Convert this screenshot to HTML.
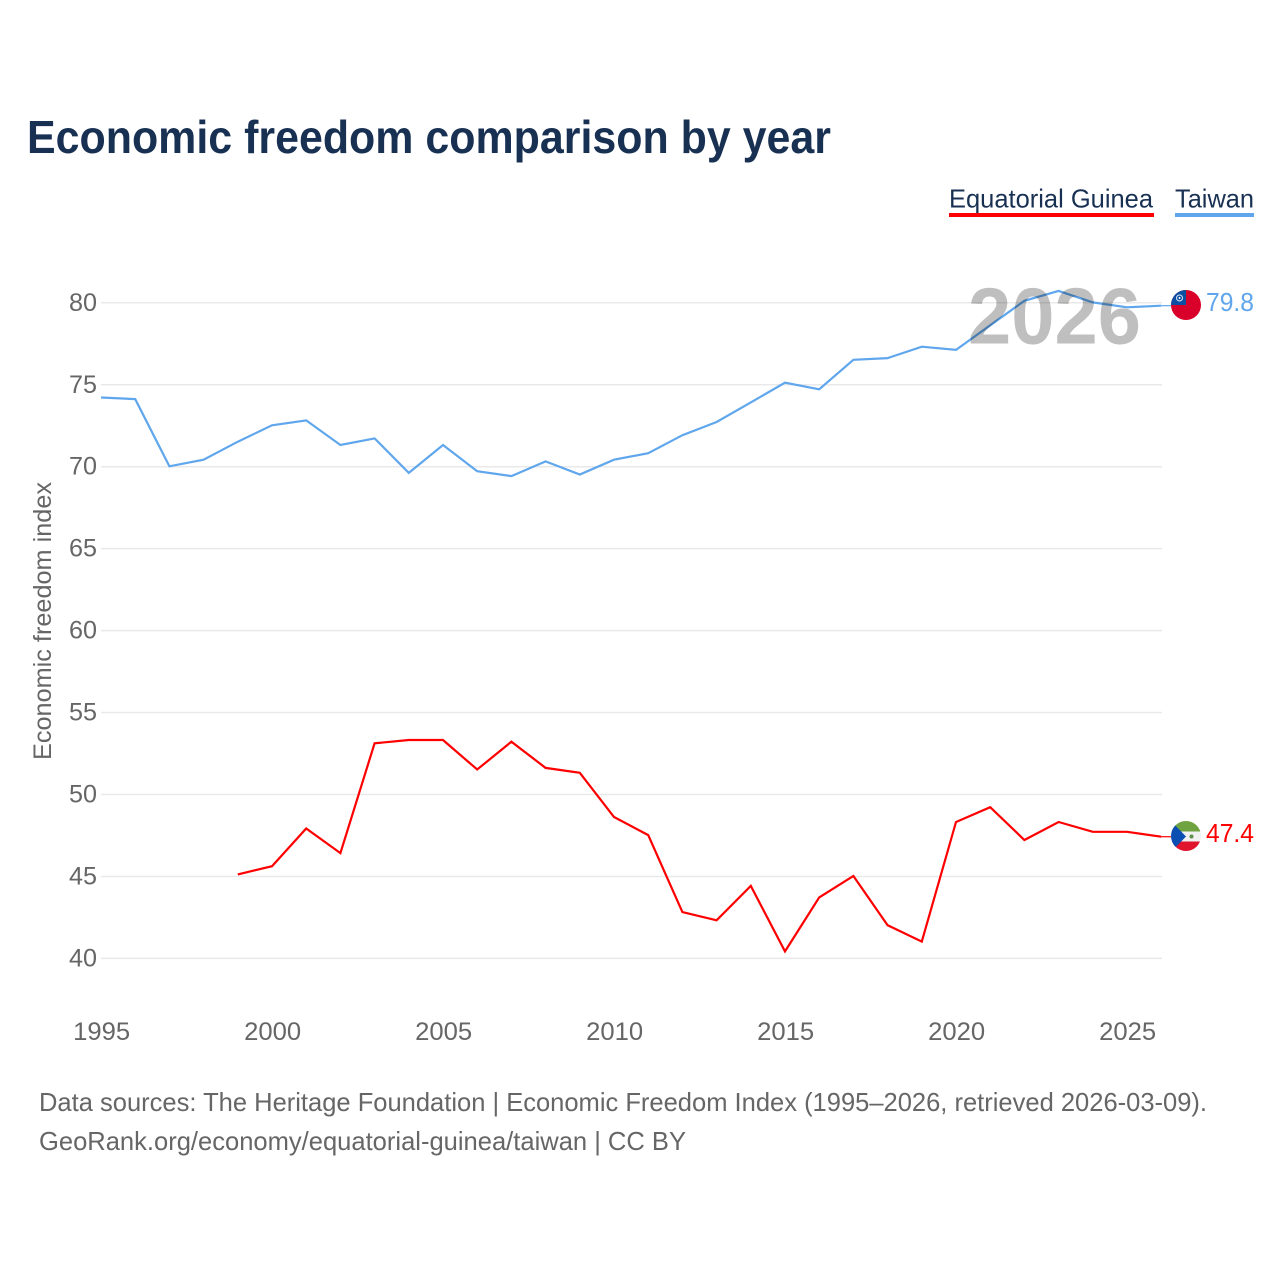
<!DOCTYPE html>
<html lang="en">
<head>
<meta charset="utf-8">
<title>Economic freedom comparison by year</title>
<style>
html,body{margin:0;padding:0;background:#fff;}
svg{display:block;font-family:"Liberation Sans",sans-serif;}
</style>
</head>
<body>
<svg id="chart" xmlns="http://www.w3.org/2000/svg" width="1280" height="1280" viewBox="0 0 1280 1280">
  <defs>
    <clipPath id="flag-clip-tw"><circle cx="1186" cy="305" r="15"/></clipPath>
    <clipPath id="flag-clip-gq"><circle cx="1186" cy="836" r="15"/></clipPath>
  </defs>
  <rect x="0" y="0" width="1280" height="1280" fill="#ffffff"/>
  <text x="27" y="153" font-size="46" font-weight="700" fill="#183153" textLength="804" lengthAdjust="spacingAndGlyphs">Economic freedom comparison by year</text>

  <g>
    <text x="949" y="207.5" font-size="26" fill="#183153" textLength="204" lengthAdjust="spacingAndGlyphs">Equatorial Guinea</text>
    <rect x="949" y="213" width="205" height="4" fill="#ff0000"/>
  </g>
  <g>
    <text x="1175" y="207.5" font-size="26" fill="#183153" textLength="79" lengthAdjust="spacingAndGlyphs">Taiwan</text>
    <rect x="1175" y="213" width="79" height="4" fill="#5fa6ec"/>
  </g>

  <g id="grid"></g>
  <g id="y-ticks"></g>
  <g id="x-ticks"></g>
  <text transform="translate(51 621) rotate(-90)" text-anchor="middle" font-size="25" fill="#666666" textLength="278" lengthAdjust="spacingAndGlyphs">Economic freedom index</text>

  <g id="series"></g>

  <text x="968" y="343.5" font-size="80" font-weight="700" fill="rgba(0,0,0,0.25)" textLength="173" lengthAdjust="spacingAndGlyphs">2026</text>

  <g clip-path="url(#flag-clip-tw)">
    <rect x="1171" y="290" width="30" height="30" fill="#d90029"/>
    <rect x="1171" y="290" width="15" height="15" fill="#0b4ea2"/>
    <circle cx="1179.5" cy="298" r="3" fill="#0b4ea2" stroke="#dfe8f5" stroke-width="1"/>
    <circle cx="1179.5" cy="298" r="1" fill="#ffffff"/>
  </g>
  <text id="label-tw" x="1206" y="311" font-size="26" fill="#5fa6ec" textLength="48" lengthAdjust="spacingAndGlyphs"></text>

  <g clip-path="url(#flag-clip-gq)">
    <rect x="1171" y="821" width="30" height="10.5" fill="#6fa341"/>
    <rect x="1171" y="831.5" width="30" height="10" fill="#f1f1f1"/>
    <rect x="1171" y="841.5" width="30" height="10" fill="#e0142c"/>
    <polygon points="1171,821 1186,836.5 1171,852" fill="#0b4fb3"/>
    <circle cx="1191.5" cy="836.5" r="2" fill="#5c8f4a"/>
  </g>
  <text id="label-gq" x="1206" y="842" font-size="26" fill="#ff0000" textLength="48" lengthAdjust="spacingAndGlyphs"></text>

  <text x="39" y="1111" font-size="26" fill="#666666" textLength="1168" lengthAdjust="spacingAndGlyphs">Data sources: The Heritage Foundation | Economic Freedom Index (1995–2026, retrieved 2026-03-09).</text>
  <text x="39" y="1150" font-size="26" fill="#666666" textLength="647" lengthAdjust="spacingAndGlyphs">GeoRank.org/economy/equatorial-guinea/taiwan | CC BY</text>
</svg>
<script>
const years = [1995,1996,1997,1998,1999,2000,2001,2002,2003,2004,2005,2006,2007,2008,2009,2010,2011,2012,2013,2014,2015,2016,2017,2018,2019,2020,2021,2022,2023,2024,2025,2026];
const taiwanValues = [74.2,74.1,70.0,70.4,71.5,72.5,72.8,71.3,71.7,69.6,71.3,69.7,69.4,70.3,69.5,70.4,70.8,71.9,72.7,73.9,75.1,74.7,76.5,76.6,77.3,77.1,78.6,80.1,80.7,80.0,79.7,79.8];
const guineaValues = [null,null,null,null,45.1,45.6,47.9,46.4,53.1,53.3,53.3,51.5,53.2,51.6,51.3,48.6,47.5,42.8,42.3,44.4,40.4,43.7,45.0,42.0,41.0,48.3,49.2,47.2,48.3,47.7,47.7,47.4];
const yTicks = [40,45,50,55,60,65,70,75,80];
const xTicks = [1995,2000,2005,2010,2015,2020,2025];

const NS = 'http://www.w3.org/2000/svg';
function xScale(year){ return 101 + (year - 1995) * 34.2; }
function yScale(v){ return 958 - (v - 40) * 16.39; }
function make(tag, parentId){
  const el = document.createElementNS(NS, tag);
  document.getElementById(parentId).appendChild(el);
  return el;
}

yTicks.forEach(function(t){
  const line = make('line', 'grid');
  
  
  line.setAttribute('x1', 101);
  line.setAttribute('x2', 1162);
  line.setAttribute('y1', yScale(t) + 0.4);
  line.setAttribute('y2', yScale(t) + 0.4);
  line.setAttribute('stroke', '#e9e9e9');
  line.setAttribute('stroke-width', '1.5');

  const label = make('text', 'y-ticks');
  
  
  label.setAttribute('x', 97);
  label.setAttribute('y', yScale(t) + 8.4);
  label.setAttribute('text-anchor', 'end');
  label.setAttribute('font-size', '25');
  label.setAttribute('fill', '#666666');
  label.setAttribute('textLength', '28');
  label.setAttribute('lengthAdjust', 'spacingAndGlyphs');
  label.textContent = t;
});

xTicks.forEach(function(t){
  const label = make('text', 'x-ticks');
  
  
  label.setAttribute('x', xScale(t) + 0.7);
  label.setAttribute('y', 1040);
  label.setAttribute('text-anchor', 'middle');
  label.setAttribute('font-size', '25');
  label.setAttribute('fill', '#666666');
  label.setAttribute('textLength', '57');
  label.setAttribute('lengthAdjust', 'spacingAndGlyphs');
  label.textContent = t;
});

function linePoints(values){
  const pts = [];
  values.forEach(function(v, i){
    if (v !== null) pts.push(xScale(years[i]).toFixed(1) + ',' + yScale(v).toFixed(1));
  });
  return pts;
}
function lastValue(values){
  return values[values.length - 1];
}

const guineaLine = make('polyline', 'series');


guineaLine.setAttribute('points', linePoints(guineaValues).join(' '));
guineaLine.setAttribute('fill', 'none');
guineaLine.setAttribute('stroke', '#ff0000');
guineaLine.setAttribute('stroke-width', '2.2');

const guineaLead = make('line', 'series');


guineaLead.setAttribute('x1', xScale(2026));
guineaLead.setAttribute('x2', 1171);
guineaLead.setAttribute('y1', yScale(lastValue(guineaValues)));
guineaLead.setAttribute('y2', yScale(lastValue(guineaValues)));
guineaLead.setAttribute('stroke', '#ff0000');
guineaLead.setAttribute('stroke-width', '1.2');

const taiwanLine = make('polyline', 'series');


taiwanLine.setAttribute('points', linePoints(taiwanValues).join(' '));
taiwanLine.setAttribute('fill', 'none');
taiwanLine.setAttribute('stroke', '#5fa6ec');
taiwanLine.setAttribute('stroke-width', '2.2');

const taiwanLead = make('line', 'series');


taiwanLead.setAttribute('x1', xScale(2026));
taiwanLead.setAttribute('x2', 1171);
taiwanLead.setAttribute('y1', yScale(lastValue(taiwanValues)));
taiwanLead.setAttribute('y2', yScale(lastValue(taiwanValues)));
taiwanLead.setAttribute('stroke', '#5fa6ec');
taiwanLead.setAttribute('stroke-width', '1.2');

document.getElementById('label-tw').textContent = lastValue(taiwanValues).toFixed(1);
document.getElementById('label-gq').textContent = lastValue(guineaValues).toFixed(1);
</script>
</body>
</html>
